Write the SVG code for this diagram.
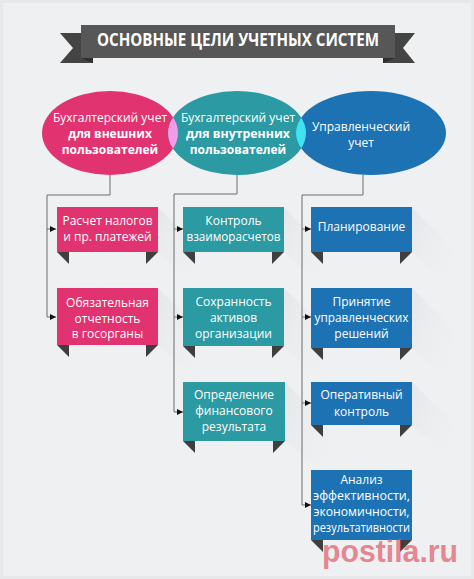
<svg xmlns="http://www.w3.org/2000/svg" width="474" height="579" viewBox="0 0 474 579">
<style>
.t{font-family:"Open Sans","Liberation Sans",sans-serif;font-size:12px;fill:#fff;text-anchor:middle}
.b{font-weight:bold}
.tab{fill:#3f3f3f}
.ln{fill:none;stroke:#6d6d6d;stroke-width:1}
.pink{fill:#e0336f}
.teal{fill:#2b9aa2}
.blue{fill:#1c72b2}
.sd{fill:url(#sh);opacity:0.35}
</style>
<defs>
<marker id="ar" viewBox="0 0 6 6" refX="6" refY="3" markerWidth="6" markerHeight="6" markerUnits="userSpaceOnUse" orient="auto"><path d="M0,0 L6,3 L0,6 z" fill="#111"/></marker>
<linearGradient id="sh" x1="0" y1="0" x2="1" y2="1"><stop offset="0" stop-color="#d3d6d8"/><stop offset="1" stop-color="#eceeef" stop-opacity="0"/></linearGradient>
<clipPath id="cp"><ellipse cx="110" cy="133" rx="68" ry="42"/></clipPath>
<clipPath id="ct"><ellipse cx="237" cy="133" rx="69" ry="42"/></clipPath>
</defs>
<rect width="474" height="579" fill="#e6e8e9"/>
<rect x="3" y="3" width="468" height="573" fill="#eef0f1"/>

<g id="title">
<polygon points="60,33 93,33 93,63 60,63 73,48" fill="#444"/>
<polygon points="415,33 383,33 383,63 415,63 403,48" fill="#444"/>
<polygon points="81,58 93,58 93,63" fill="#2e2e2e"/>
<polygon points="395,58 383,58 383,63" fill="#2e2e2e"/>
<rect x="81" y="25" width="314" height="33" fill="#575757"/>
<text x="238" y="46" class="t b" style="font-size:18px" textLength="282" lengthAdjust="spacingAndGlyphs">ОСНОВНЫЕ ЦЕЛИ УЧЕТНЫХ СИСТЕМ</text>
</g>

<g id="shadows">
<polygon class="sd" points="158,252 158,207 200,250 200,290"/>
<polygon class="sd" points="158,345 158,288 200,330 200,385"/>
<polygon class="sd" points="284,252 284,207 326,250 326,290"/>
<polygon class="sd" points="284,346 284,288 326,330 326,385"/>
<polygon class="sd" points="285,441 285,382 330,425 330,480"/>
<polygon class="sd" points="412,252 412,207 454,250 454,290"/>
<polygon class="sd" points="412,348 412,288 454,330 454,385"/>
<polygon class="sd" points="412,425 412,382 454,424 454,465"/>
</g>

<g id="ell-ext">
<ellipse class="pink" cx="110" cy="133" rx="68" ry="42"/>
<text class="t" x="110" y="122">Бухгалтерский учет</text>
<text class="t b" x="110" y="138">для внешних</text>
<text class="t b" x="110" y="154">пользователей</text>
</g>
<g id="ell-int">
<ellipse class="teal" cx="237" cy="133" rx="69" ry="42"/>
<ellipse cx="237" cy="133" rx="69" ry="42" fill="#f39be6" clip-path="url(#cp)"/>
<text class="t" x="238" y="122">Бухгалтерский учет</text>
<text class="t b" x="238" y="138" textLength="104" lengthAdjust="spacingAndGlyphs">для внутренних</text>
<text class="t b" x="238" y="154">пользователей</text>
</g>
<g id="ell-mgmt">
<ellipse class="blue" cx="371" cy="133" rx="75" ry="42"/>
<ellipse cx="371" cy="133" rx="75" ry="42" fill="#3fe4ee" clip-path="url(#ct)"/>
<text class="t" x="361" y="131">Управленческий</text>
<text class="t" x="361" y="147">учет</text>
</g>

<g id="connectors">
<path class="ln" d="M110,175 V195 H47 V317 H56" marker-end="url(#ar)"/>
<path class="ln" d="M47,229 H56" marker-end="url(#ar)"/>
<path class="ln" d="M237,175 V194 H174 V412 H183" marker-end="url(#ar)"/>
<path class="ln" d="M174,229 H183" marker-end="url(#ar)"/>
<path class="ln" d="M174,317 H183" marker-end="url(#ar)"/>
<path class="ln" d="M363,175 V195 H302 V505 H311" marker-end="url(#ar)"/>
<path class="ln" d="M302,229 H311" marker-end="url(#ar)"/>
<path class="ln" d="M302,317 H311" marker-end="url(#ar)"/>
<path class="ln" d="M302,403 H311" marker-end="url(#ar)"/>
</g>

<g id="p1">
<polygon class="tab" points="57,252 69,252 69,264"/><polygon class="tab" points="146,252 158,252 146,264"/>
<rect class="pink" x="57" y="207" width="101" height="45"/>
<text class="t" x="107.5" y="225">Расчет налогов</text>
<text class="t" x="107.5" y="241">и пр. платежей</text>
</g>
<g id="p2">
<polygon class="tab" points="57,345 69,345 69,357"/><polygon class="tab" points="146,345 158,345 146,357"/>
<rect class="pink" x="57" y="288" width="101" height="57"/>
<text class="t" x="107.5" y="307">Обязательная</text>
<text class="t" x="107.5" y="322.5">отчетность</text>
<text class="t" x="107.5" y="338">в госорганы</text>
</g>

<g id="t1">
<polygon class="tab" points="183,252 195,252 195,264"/><polygon class="tab" points="272,252 284,252 272,264"/>
<rect class="teal" x="183" y="207" width="101" height="45"/>
<text class="t" x="233.5" y="225">Контроль</text>
<text class="t" x="233.5" y="241" textLength="94" lengthAdjust="spacingAndGlyphs">взаиморасчетов</text>
</g>
<g id="t2">
<polygon class="tab" points="183,346 195,346 195,358"/><polygon class="tab" points="272,346 284,346 272,358"/>
<rect class="teal" x="183" y="288" width="101" height="58"/>
<text class="t" x="233.5" y="306">Сохранность</text>
<text class="t" x="233.5" y="322">активов</text>
<text class="t" x="233.5" y="338">организации</text>
</g>
<g id="t3">
<polygon class="tab" points="183,441 195,441 195,453"/><polygon class="tab" points="273,441 285,441 273,453"/>
<rect class="teal" x="183" y="382" width="102" height="59"/>
<text class="t" x="234" y="399">Определение</text>
<text class="t" x="234" y="415">финансового</text>
<text class="t" x="234" y="431">результата</text>
</g>

<g id="b1">
<polygon class="tab" points="311,252 323,252 323,264"/><polygon class="tab" points="400,252 412,252 400,264"/>
<rect class="blue" x="311" y="207" width="101" height="45"/>
<text class="t" x="361.5" y="231">Планирование</text>
</g>
<g id="b2">
<polygon class="tab" points="311,348 323,348 323,360"/><polygon class="tab" points="400,348 412,348 400,360"/>
<rect class="blue" x="311" y="288" width="101" height="60"/>
<text class="t" x="361.5" y="306">Принятие</text>
<text class="t" x="361.5" y="322" textLength="94" lengthAdjust="spacingAndGlyphs">управленческих</text>
<text class="t" x="361.5" y="338">решений</text>
</g>
<g id="b3">
<polygon class="tab" points="311,425 323,425 323,437"/><polygon class="tab" points="400,425 412,425 400,437"/>
<rect class="blue" x="311" y="382" width="101" height="43"/>
<text class="t" x="361.5" y="399">Оперативный</text>
<text class="t" x="361.5" y="416">контроль</text>
</g>
<g id="b4">
<polygon class="tab" points="311,540 323,540 323,552"/><polygon class="tab" points="400,540 412,540 400,552"/>
<rect class="blue" x="311" y="470" width="101" height="70"/>
<text class="t" x="361.5" y="484">Анализ</text>
<text class="t" x="361.5" y="500" textLength="97" lengthAdjust="spacingAndGlyphs">эффективности,</text>
<text class="t" x="361.5" y="516" textLength="96" lengthAdjust="spacingAndGlyphs">экономичности,</text>
<text class="t" x="361.5" y="531.5" textLength="97" lengthAdjust="spacingAndGlyphs">результативности</text>
</g>

<text x="322" y="562" textLength="136" lengthAdjust="spacingAndGlyphs" style="font-family:'Liberation Sans',sans-serif;font-weight:bold;font-size:31px;fill:#e0505f;opacity:0.65">postila.ru</text>
</svg>
